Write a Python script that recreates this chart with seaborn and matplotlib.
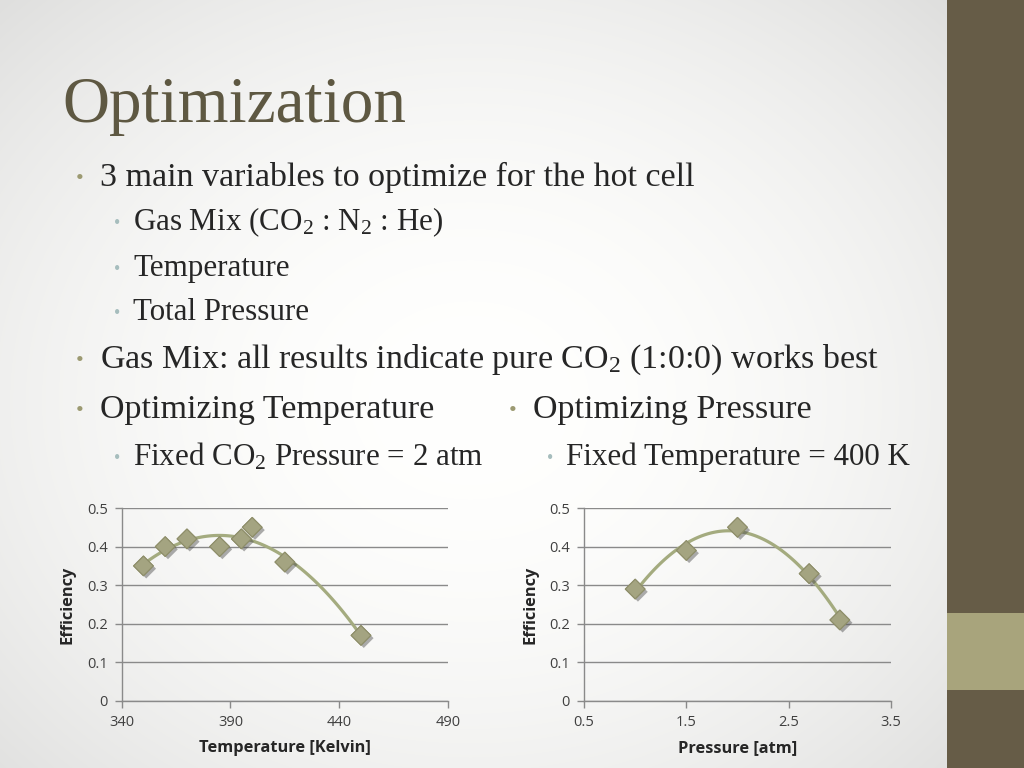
import numpy as np
import matplotlib.pyplot as plt
import seaborn as sns
from matplotlib import patheffects

# data
temp_k = [350, 360, 370, 385, 395, 400, 415, 450]
temp_eff = [0.35, 0.40, 0.42, 0.40, 0.42, 0.45, 0.36, 0.17]
press_atm = [1.0, 1.5, 2.0, 2.7, 3.0]
press_eff = [0.29, 0.39, 0.45, 0.33, 0.21]

temp_ticks = [340, 390, 440, 490]
press_ticks = [0.5, 1.5, 2.5, 3.5]
eff_ticks = [0, 0.1, 0.2, 0.3, 0.4, 0.5]
eff_labels = ["0", "0.1", "0.2", "0.3", "0.4", "0.5"]

sns.set_style("white")
plt.rcParams["font.family"] = ["Liberation Serif", "DejaVu Serif"]
plt.rcParams["mathtext.fontset"] = "custom"
plt.rcParams["mathtext.rm"] = "Liberation Serif"
plt.rcParams["mathtext.it"] = "Liberation Serif:italic"

W, H = 1024, 768
fig = plt.figure(figsize=(10.24, 7.68), dpi=100)

# slide background: soft grey vignette
bg = fig.add_axes([0, 0, 1, 1], zorder=-10)
yy, xx = np.mgrid[0:H, 0:W]
r = np.sqrt(((xx - 470) / 600.0) ** 2 + ((yy - 400) / 500.0) ** 2)
shade = np.clip(1.0 - 0.10 * r ** 2, 0.87, 1.0)
bg.imshow(np.dstack([shade, shade, shade * 0.995]), extent=[0, W, H, 0], aspect="auto")
bg.set_xlim(0, W)
bg.set_ylim(H, 0)
bg.axis("off")

# right-hand decorative bar
bg.add_patch(plt.Rectangle((947, 0), 77, H, color="#665c47", lw=0))
bg.add_patch(plt.Rectangle((947, 613), 77, 77, color="#a8a47c", lw=0))

text_col = "#262626"
bullet1 = "#9c9a72"
bullet2 = "#a6bdbd"


def px(x, y):
    return x / W, 1 - y / H


fig.text(*px(62, 122), "Optimization", fontsize=47, color="#5e5842",
         ha="left", va="baseline")

lines = [
    (1, 100, 186, "3 main variables to optimize for the hot cell"),
    (2, 133, 230, "Gas Mix (CO$_2$ : N$_2$ : He)"),
    (2, 133, 276, "Temperature"),
    (2, 133, 320, "Total Pressure"),
    (1, 100, 368, "Gas Mix: all results indicate pure CO$_2$ (1:0:0) works best"),
    (1, 100, 418, "Optimizing Temperature"),
    (1, 533, 418, "Optimizing Pressure"),
    (2, 133, 465, "Fixed CO$_2$ Pressure = 2 atm"),
    (2, 566, 465, "Fixed Temperature = 400 K"),
]
for level, x, y, s in lines:
    size = 24.5 if level == 1 else 22.3
    fig.text(*px(x, y), s, fontsize=size, color=text_col, ha="left", va="baseline")
    bcol = bullet1 if level == 1 else bullet2
    bsize = 16 if level == 1 else 13
    fig.text(*px(x - 24 if level == 1 else x - 19, y - 2), "\u2022",
             fontsize=bsize, color=bcol, ha="left", va="baseline")

marker_face = "#a4a481"
marker_edge = "#8e8e6a"
line_col = "#a4ab7f"
grid_col = "#8a8a8a"
shadow = [patheffects.withSimplePatchShadow(offset=(2, -2), shadow_rgbFace="#4a4a4a", alpha=0.45),
          patheffects.Normal()]


def chart(rect, x, y, xticks, xlabel):
    ax = fig.add_axes(rect)
    ax.patch.set_alpha(0)
    sns.regplot(x=x, y=y, order=2, ci=None, scatter=False, ax=ax,
                line_kws=dict(color=line_col, lw=2.3, zorder=3))
    sns.scatterplot(x=x, y=y, marker="D", s=100, color=marker_face,
                    edgecolor=marker_edge, linewidth=0.8, ax=ax, zorder=4,
                    path_effects=shadow)
    ax.set_xlim(xticks[0], xticks[-1])
    ax.set_ylim(0, 0.5)
    ax.set_xticks(xticks)
    ax.set_xticklabels([str(t) for t in xticks])
    ax.set_yticks(eff_ticks)
    ax.set_yticklabels(eff_labels)
    ax.yaxis.grid(True, color=grid_col, lw=1)
    ax.set_axisbelow(True)
    for side in ["top", "right"]:
        ax.spines[side].set_visible(False)
    for side in ["left", "bottom"]:
        ax.spines[side].set_color(grid_col)
        ax.spines[side].set_linewidth(1)
    ax.tick_params(axis="both", direction="out", length=5, width=1, color=grid_col,
                   labelsize=10.5, labelcolor="#404040", pad=5,
                   bottom=True, left=True)
    for lab in ax.get_xticklabels() + ax.get_yticklabels():
        lab.set_family("Open Sans")
    ax.set_xlabel(xlabel, fontsize=11.8, fontweight="bold", family="Open Sans",
                  color="#262626", labelpad=7)
    ax.set_ylabel("Efficiency", fontsize=11.8, fontweight="bold", family="Open Sans",
                  color="#262626", labelpad=8)
    return ax


chart([121.7 / W, 67 / H, 326.3 / W, 193 / H], temp_k, temp_eff, temp_ticks,
      "Temperature [Kelvin]")
chart([584 / W, 67 / H, 307 / W, 193 / H], press_atm, press_eff, press_ticks,
      "Pressure [atm]")

fig.savefig("out.png", dpi=100)
